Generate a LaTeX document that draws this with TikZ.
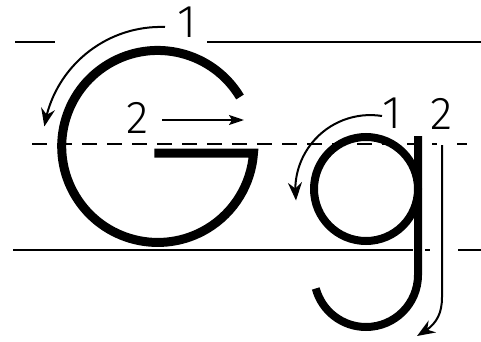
\documentclass[tikz,border=0pt]{standalone}
\usepackage{fontspec}
\IfFontExistsTF{Fira Sans Light}{\setmainfont{Fira Sans Light}}{\setmainfont{Liberation Sans}}
\usetikzlibrary{arrows.meta,bending}
\begin{document}
\begin{tikzpicture}[x=1pt,y=-1pt,
  guide/.style={line width=2.6pt},
  midguide/.style={line width=2pt, dash pattern=on 15pt off 10pt, dash phase=18pt},
  bigletter/.style={line width=9pt, line join=miter},
  smallletter/.style={line width=8pt, line join=miter},
  hint/.style={line width=2pt, -{Stealth[length=18pt,width=14pt,inset=6pt]}},
  hintstraight/.style={line width=1.8pt, -{Stealth[length=15pt,width=10pt,inset=3pt]}},
  num/.style={inner sep=0pt, font=\fontsize{46}{46}\selectfont}]
\fill[white] (0,0) rectangle (481,342);
\useasboundingbox (0,0) rectangle (481,342);
% guide lines
\draw[guide] (15,42) -- (55,42);
\draw[guide] (207,42) -- (481,42);
\draw[midguide] (25,144) -- (467,144);
\draw[guide] (13,250) -- (413,250);
\draw[guide] (425,250) -- (430,250);
\draw[guide] (458,250) -- (481,250);
% capital G
\draw[bigletter] (240,97) arc[start angle=-31, end angle=-356, radius=96] -- ++(-99,0);
% small g
\draw[smallletter] (366,189) circle[radius=52];
\draw[smallletter] (418,136) -- (418,275) arc[start angle=0, end angle=165, radius=52];
% labels
\node[num] (G1) at (187,22) {1};
\node[num] (G2) at (137.5,118) {2};
\node[num] (g1) at (392,113) {1};
\node[num] (g2) at (442,114) {2};
% stroke hints
\coordinate (a1s) at (165,27);
\coordinate (a2s) at (162,120);
\coordinate (a2e) at (244,120);
\coordinate (b1s) at (382,116);
\coordinate (b2s) at (442,145);
\coordinate (b2m) at (442,297);
\coordinate (b2e) at (417,336);
\draw[hint] (a1s) arc[start angle=-88, end angle=-171, radius=118];
\draw[hintstraight] (a2s) -- (a2e);
\draw[hint] (b1s) arc[start angle=-81, end angle=-188, radius=75];
\draw[white, line width=10pt] (442,138) -- (442,150);
\draw[hint] (b2s) -- (b2m) .. controls (442,317) and (434,327) .. (b2e);
\end{tikzpicture}
\end{document}
